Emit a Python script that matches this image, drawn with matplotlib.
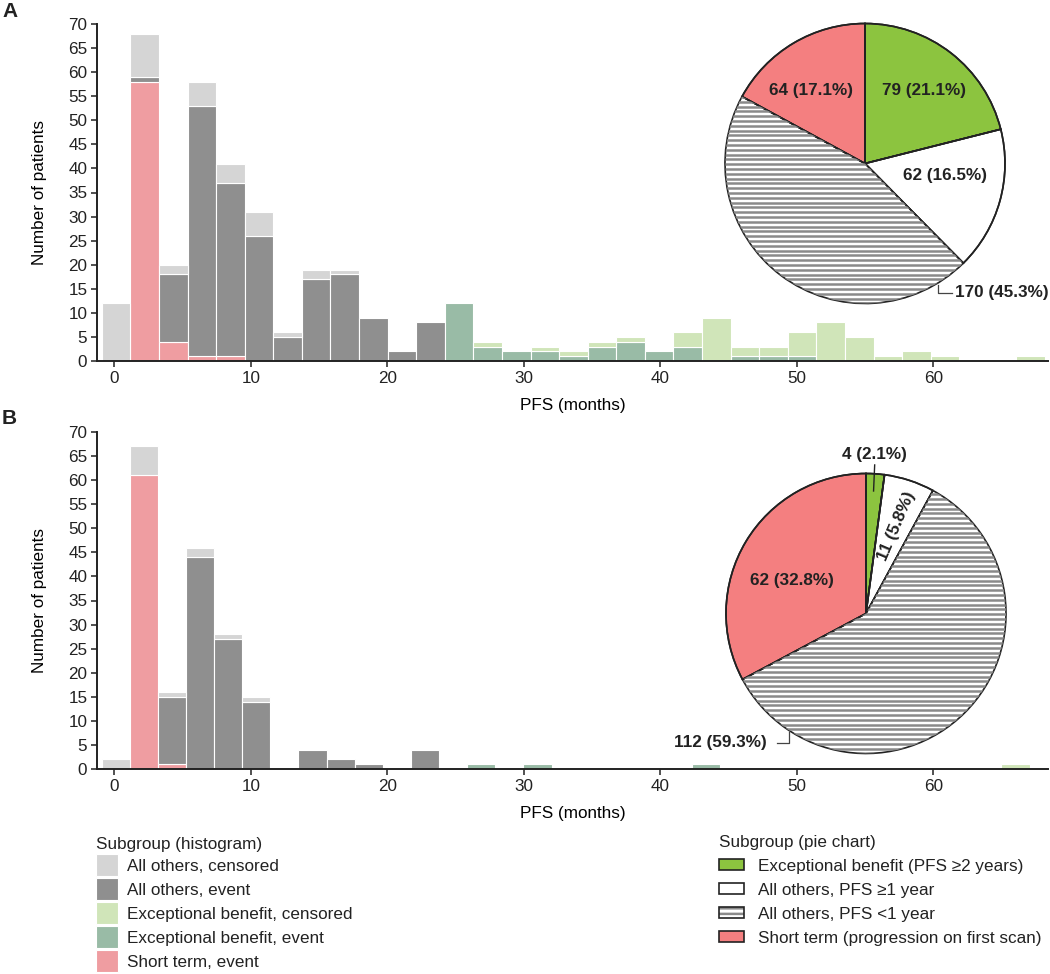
import numpy as np
import matplotlib.pyplot as plt
from matplotlib.patches import Patch

plt.rcParams['font.family'] = ['Liberation Sans', 'DejaVu Sans']
plt.rcParams['font.size'] = 12.3
plt.rcParams['hatch.linewidth'] = 1.8
plt.rcParams['text.color'] = '#222222'

# histogram bins: 33 bins of PFS (months) per cohort
n_bins = 33
a_bin_start, a_bin_width = -0.92, 2.094
b_bin_start, b_bin_width = -0.93, 2.06

# panel A counts per bin
a_short_event = [0, 58, 4, 1, 1] + [0] * 28
a_others_event = [0, 1, 14, 52, 36, 26, 5, 17, 18, 9, 2, 8] + [0] * 21
a_others_cens = [12, 9, 2, 5, 4, 5, 1, 2, 1] + [0] * 24
a_exc_event = [0] * 12 + [12, 3, 2, 2, 1, 3, 4, 2, 3, 0, 1, 1, 1] + [0] * 8
a_exc_cens = [0] * 13 + [1, 0, 1, 1, 1, 1, 0, 3, 9, 2, 2, 5, 8, 5, 1, 2, 1, 0, 0, 1]

# panel B counts per bin
b_short_event = [0, 61, 1] + [0] * 30
b_others_event = [0, 0, 14, 44, 27, 14, 0, 4, 2, 1, 0, 4] + [0] * 21
b_others_cens = [2, 6, 1, 2, 1, 1] + [0] * 27
b_exc_event = [0] * 13 + [1, 0, 1, 0, 0, 0, 0, 0, 1] + [0] * 11
b_exc_cens = [0] * 32 + [1]

# pie chart subgroups
pie_labels = ['Exceptional benefit (PFS \u22652 years)', 'All others, PFS \u22651 year',
              'All others, PFS <1 year', 'Short term (progression on first scan)']
a_pie = [79, 62, 170, 64]
b_pie = [4, 11, 112, 62]

hist_labels = ['All others, censored', 'All others, event', 'Exceptional benefit, censored',
               'Exceptional benefit, event', 'Short term, event']
c_cens = '#d5d5d5'
c_event = '#8f8f8f'
c_exc_cens = '#d0e5b9'
c_exc_event = '#99bba6'
c_short = '#ef9da1'
pie_colors = ['#8cc43f', 'white', 'white', '#f47f80']
stripe = '#8a8a8a'
dark = '#222222'

W, H = 1050, 974
fig = plt.figure(figsize=(W / 100, H / 100), dpi=100)


def draw_hist(ax, start, width, layers):
    lefts = start + width * np.arange(n_bins)
    bottom = np.zeros(n_bins)
    for vals, color in layers:
        vals = np.array(vals, dtype=float)
        m = vals > 0
        ax.bar(lefts[m], vals[m], width=width, bottom=bottom[m], align='edge',
               color=color, edgecolor='white', linewidth=0.8)
        bottom += vals
    ax.set_xlim(-1.27, 68.4)
    ax.set_ylim(0, 70)
    ax.set_xticks(range(0, 61, 10))
    ax.set_yticks(range(0, 71, 5))
    for s in ['top', 'right']:
        ax.spines[s].set_visible(False)
    for s in ['left', 'bottom']:
        ax.spines[s].set_linewidth(1.4)
        ax.spines[s].set_color(dark)
    ax.tick_params(direction='out', length=4, width=1.1, colors=dark, labelsize=12.3, pad=3)
    ax.set_xlabel('PFS (months)', fontsize=12.3, labelpad=9)
    ax.set_ylabel('Number of patients', fontsize=12.3, labelpad=15)


def draw_pie(ax, vals):
    wedges, _ = ax.pie(vals, colors=pie_colors, startangle=90, counterclock=False,
                       wedgeprops=dict(edgecolor=dark, linewidth=1.2))
    hw = wedges[2]
    hw.set_linewidth(0)
    # horizontal stripes clipped to the "PFS <1 year" slice
    lines = ax.hlines(np.arange(-1, 1, 0.0343), -1, 1, color=stripe, lw=1.8)
    lines.set_clip_path(hw)
    # outlines on top
    ax.pie(vals, colors=['none'] * 4, startangle=90, counterclock=False,
           wedgeprops=dict(edgecolor=dark, linewidth=1.2, fill=False))
    ax.set_xlim(-1, 1)
    ax.set_ylim(-1, 1)
    ax.set_aspect('equal')


# panel A
axA = fig.add_axes([97 / W, (H - 361) / H, 951 / W, 337 / H])
draw_hist(axA, a_bin_start, a_bin_width,
          [(a_short_event, c_short), (a_others_event, c_event), (a_others_cens, c_cens),
           (a_exc_event, c_exc_event), (a_exc_cens, c_exc_cens)])

# panel B
axB = fig.add_axes([97 / W, (H - 769) / H, 951 / W, 337 / H])
draw_hist(axB, b_bin_start, b_bin_width,
          [(b_short_event, c_short), (b_others_event, c_event), (b_others_cens, c_cens),
           (b_exc_event, c_exc_event), (b_exc_cens, c_exc_cens)])

fig.text(2 / W, 1 - 2 / H, 'A', fontsize=15, fontweight='bold', va='top', ha='left')
fig.text(2 / W, 1 - 409 / H, 'B', fontsize=15, fontweight='bold', va='top', ha='left')

bold = dict(fontsize=12.3, fontweight='bold', ha='center', va='center')

# pie A
pA = fig.add_axes([(865 - 140) / W, (H - 163.5 - 140) / H, 280 / W, 280 / H])
draw_pie(pA, a_pie)
pct = [v / sum(a_pie) * 100 for v in a_pie]
pA.text(0.424, 0.518, f'{a_pie[0]} ({pct[0]:.1f}%)', **bold)
pA.text(0.574, -0.089, f'{a_pie[1]} ({pct[1]:.1f}%)', **bold)
pA.text(-0.386, 0.518, f'{a_pie[3]} ({pct[3]:.1f}%)', **bold)
pA.text(0.643, -0.923, f'{a_pie[2]} ({pct[2]:.1f}%)', fontsize=12.3, fontweight='bold',
        ha='left', va='center', clip_on=False)
pA.plot([0.524, 0.524, 0.619], [-0.868, -0.923, -0.923], color='#444444', lw=0.9, clip_on=False)

# pie B
pB = fig.add_axes([(866 - 140) / W, (H - 613.5 - 140) / H, 280 / W, 280 / H])
draw_pie(pB, b_pie)
pct = [v / sum(b_pie) * 100 for v in b_pie]
pB.text(0.059, 1.137, f'{b_pie[0]} ({pct[0]:.1f}%)', clip_on=False, **bold)
pB.plot([0.062, 0.054], [1.061, 0.875], color=dark, lw=1.0, clip_on=False)
pB.text(0.221, 0.625, f'{b_pie[1]} ({pct[1]:.1f}%)', rotation=67, rotation_mode='anchor', **bold)
pB.text(-0.531, 0.239, f'{b_pie[3]} ({pct[3]:.1f}%)', **bold)
pB.text(-0.707, -0.923, f'{b_pie[2]} ({pct[2]:.1f}%)', fontsize=12.3, fontweight='bold',
        ha='right', va='center', clip_on=False)
pB.plot([-0.638, -0.548, -0.548], [-0.923, -0.923, -0.844], color='#444444', lw=0.9, clip_on=False)

# legends
hist_handles = [Patch(facecolor=c, edgecolor='white', linewidth=0.8)
                for c in [c_cens, c_event, c_exc_cens, c_exc_event, c_short]]
fig.legend(hist_handles, hist_labels, loc='upper left', bbox_to_anchor=(96 / W, 1 - 837 / H),
           title='Subgroup (histogram)', title_fontsize=12.3, fontsize=12.3, frameon=False,
           alignment='left', borderpad=0, borderaxespad=0, handlelength=1.29, handleheight=1.6,
           handletextpad=0.5, labelspacing=0.12)

pie_handles = [Patch(facecolor=pie_colors[0], edgecolor=dark, linewidth=1.2),
               Patch(facecolor='white', edgecolor=dark, linewidth=1.2),
               (Patch(facecolor='white', edgecolor=stripe, linewidth=0, hatch='---'),
                Patch(facecolor='none', edgecolor=dark, linewidth=1.2)),
               Patch(facecolor=pie_colors[3], edgecolor=dark, linewidth=1.2)]
fig.legend(pie_handles, pie_labels, loc='upper left', bbox_to_anchor=(719 / W, 1 - 835 / H),
           title='Subgroup (pie chart)', title_fontsize=12.3, fontsize=12.3, frameon=False,
           alignment='left', borderpad=0, borderaxespad=0, handlelength=1.46, handleheight=0.62,
           handletextpad=0.85, labelspacing=0.52)

fig.savefig('out.png', dpi=100)
